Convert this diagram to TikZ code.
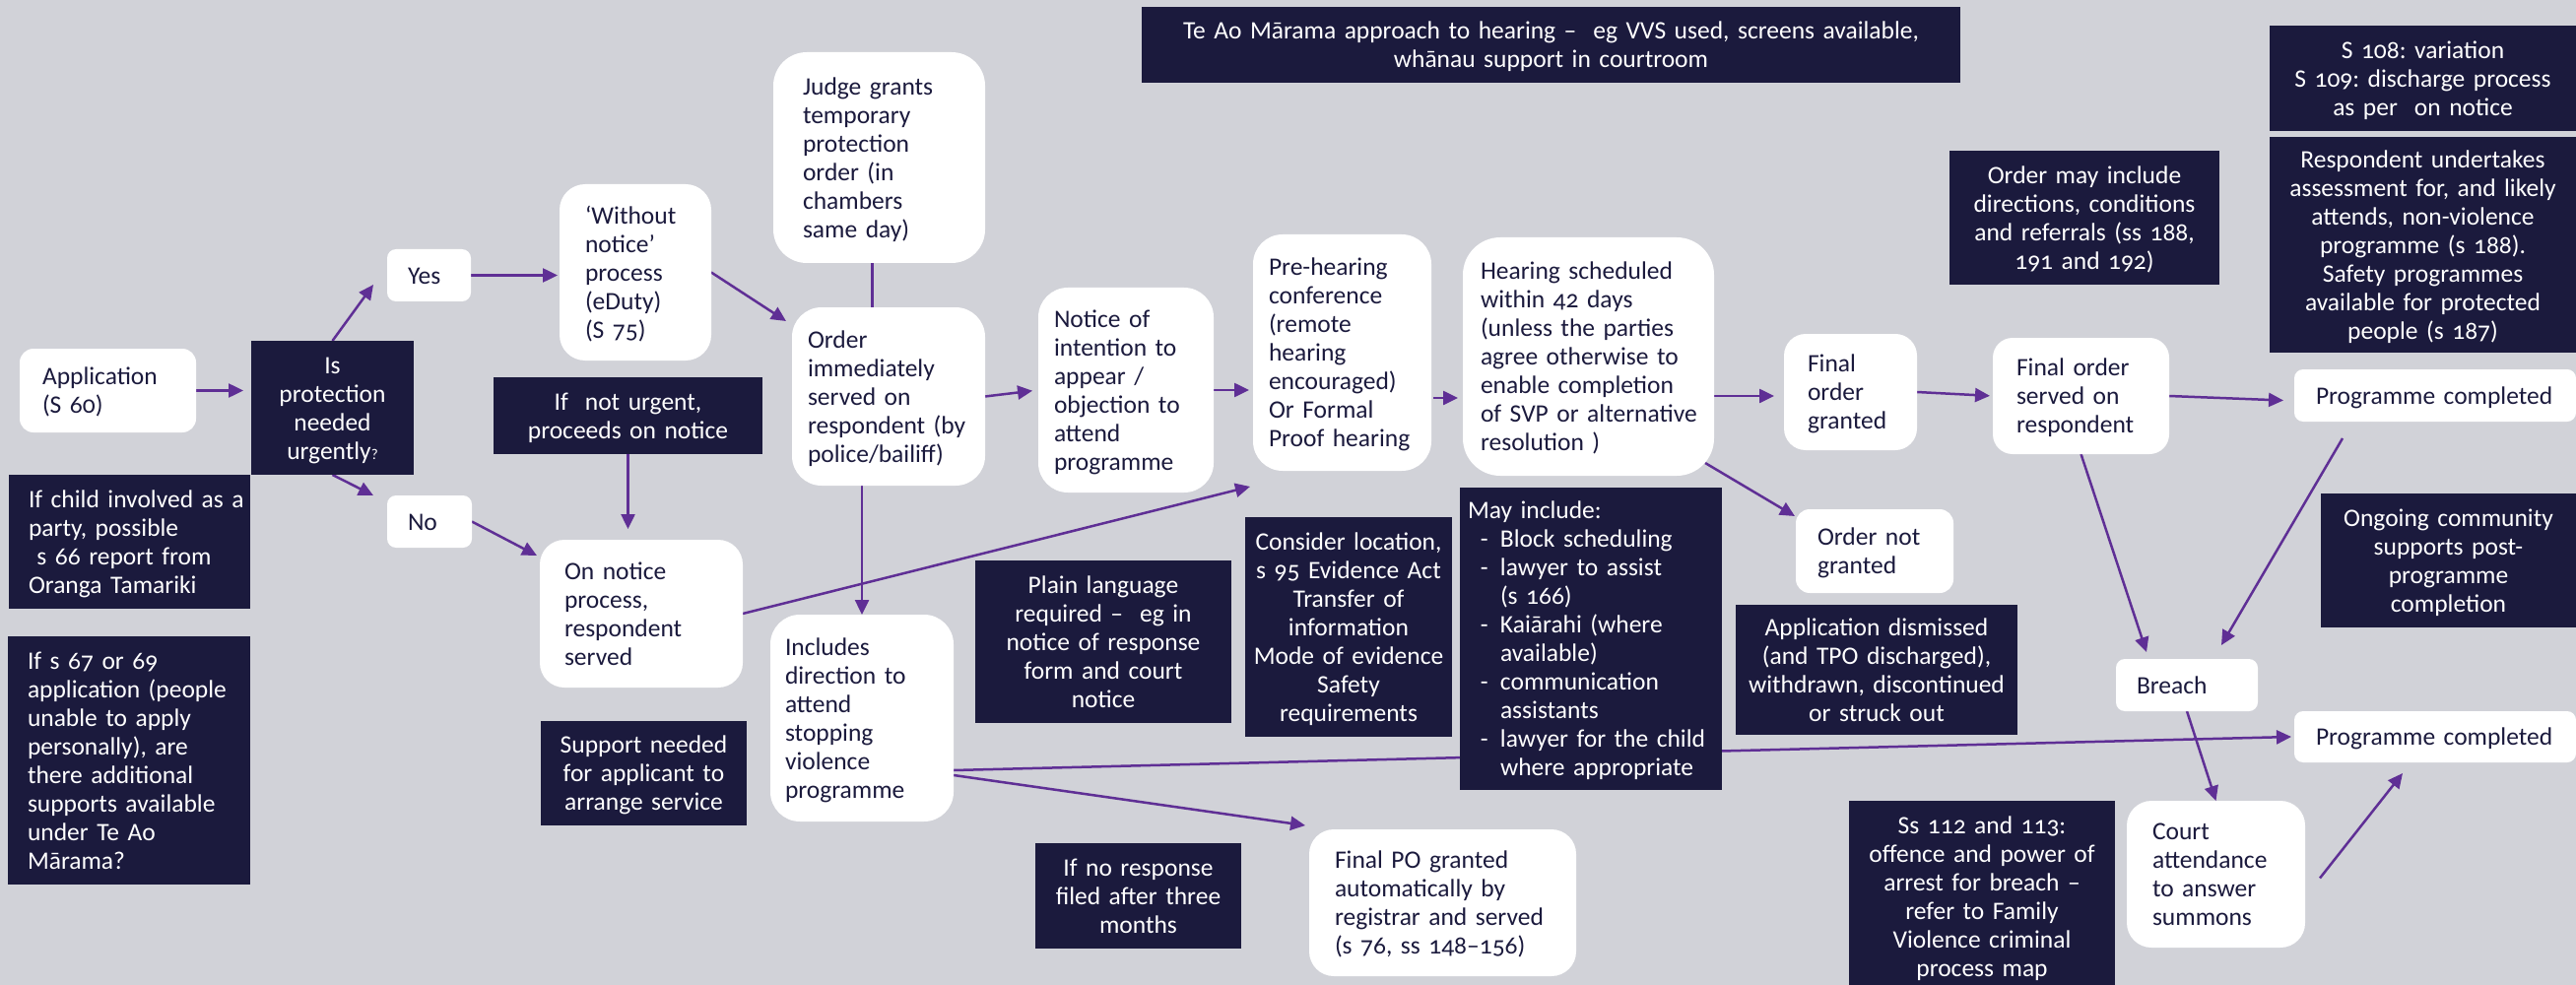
\documentclass[tikz,border=0pt]{standalone}
\usepackage{fontspec}
\setmainfont{Carlito}[Numbers=OldStyle]
\usetikzlibrary{arrows.meta,calc}
\definecolor{bgc}{HTML}{D1D2D8}
\definecolor{navy}{HTML}{1B1A3D}
\definecolor{purp}{HTML}{5F2F95}
\frenchspacing
\newcommand\nf{\fontsize{25.5}{29}\selectfont\frenchspacing}
\newcommand\qsm{{\fontsize{15}{15}\selectfont ?}}
\newcommand\tl[1]{\raisebox{-3pt}[\height][\depth]{\begin{tabular}{@{}l@{}}#1\end{tabular}}}
\newcommand\tc[1]{\raisebox{-3pt}[\height][\depth]{\begin{tabular}{@{}c@{}}#1\end{tabular}}}
\pgfdeclarelayer{bg}\pgfdeclarelayer{edges}\pgfsetlayers{bg,edges,main}
\tikzset{
  base/.style={font=\nf, inner ysep=0pt, outer sep=0pt},
  wb/.style n args={4}{base, fill=white, text=navy, align=left,
     minimum width=#1, minimum height=#2, text width=#3, inner xsep=#4},
  db/.style n args={3}{base, fill=navy, text=white, align=center,
     minimum width=#1, minimum height=#2, text width=#3, inner xsep=4pt},
  dbl/.style n args={4}{base, fill=navy, text=white, align=left,
     minimum width=#1, minimum height=#2, text width=#3, inner xsep=#4},
  conn/.style={draw=purp, line width=2.5pt},
  arr/.style={conn, -{Triangle[length=15pt,width=14pt]}},
}
\begin{document}
\begin{tikzpicture}[x=1pt,y=-1pt]
\begin{pgfonlayer}{bg}
\fill[bgc] (0,0) rectangle (2615,1000);
\end{pgfonlayer}
\useasboundingbox (0,0) rectangle (2615,1000);

% white boxes
\node[wb={179pt}{85pt}{133pt}{23pt}, rounded corners=14pt] (app) at (109.5,396.5) {\tl{Application\\(S 60)}};
\node[wb={85pt}{53pt}{43pt}{21pt}, rounded corners=9pt] (yes) at (435.5,279.5) {\tl{Yes}};
\node[wb={86pt}{53pt}{44pt}{21pt}, rounded corners=9pt] (no) at (436,529.5) {\tl{No}};
\node[wb={154pt}{179pt}{102pt}{26pt}, rounded corners=26pt] (without) at (645,276.5) {\tl{‘Without\\notice’\\process\\(eDuty)\\(S 75)}};
\node[wb={215pt}{214pt}{155pt}{30pt}, rounded corners=34pt] (judge) at (892.5,160) {\tl{Judge grants\\temporary\\protection\\order (in\\chambers\\same day)}};
\node[wb={196pt}{181pt}{164pt}{16pt}, rounded corners=30pt] (order) at (902,402.5) {\tl{Order\\immediately\\served on\\respondent (by\\police/bailiff)}};
\node[wb={206pt}{150pt}{156pt}{25pt}, rounded corners=25pt] (onnotice) at (651,623) {\tl{On notice\\process,\\respondent\\served}};
\node[wb={186pt}{210pt}{156pt}{15pt}, rounded corners=30pt] (includes) at (875,729) {\tl{Includes\\direction to\\attend\\stopping\\violence\\programme}};
\node[wb={178pt}{208pt}{146pt}{16pt}, rounded corners=30pt] (notice) at (1143,396) {\tl{Notice of\\intention to\\appear /\\objection to\\attend\\programme}};
\node[wb={181pt}{240pt}{149pt}{16pt}, rounded corners=30pt] (prehear) at (1362.5,358) {\tl{Pre-hearing\\conference\\(remote\\hearing\\encouraged)\\Or Formal\\Proof hearing}};
\node[wb={255pt}{242pt}{219pt}{18pt}, rounded corners=38pt] (hearing) at (1612.5,362) {\tl{Hearing scheduled\\within 42 days\\(unless the parties\\agree otherwise to\\enable completion\\of SVP or alternative\\resolution )}};
\node[wb={135pt}{118pt}{87pt}{24pt}, rounded corners=22pt] (finalgr) at (1878.5,398) {\tl{Final\\order\\granted}};
\node[wb={179pt}{118pt}{131pt}{24pt}, rounded corners=20pt] (served) at (2112.5,402) {\tl{Final order\\served on\\respondent}};
\node[wb={286pt}{53pt}{242pt}{22pt}, rounded corners=9pt] (prog1) at (2472,401.5) {\tl{Programme completed}};
\node[wb={160pt}{85pt}{116pt}{22pt}, rounded corners=14pt] (ordernot) at (1903,559.5) {\tl{Order not\\granted}};
\node[wb={144pt}{53pt}{102pt}{21pt}, rounded corners=9pt] (breach) at (2220,695.5) {\tl{Breach}};
\node[wb={286pt}{52pt}{242pt}{22pt}, rounded corners=9pt] (prog2) at (2472,748) {\tl{Programme completed}};
\node[wb={181pt}{149pt}{129pt}{26pt}, rounded corners=25pt] (court) at (2249.5,887.5) {\tl{Court\\attendance\\to answer\\summons}};
\node[wb={271pt}{149pt}{219pt}{26pt}, rounded corners=25pt] (finalpo) at (1464.5,916.5) {\tl{Final PO granted\\automatically by\\registrar and served\\(s 76, ss 148–156)}};

% dark boxes
\node[db={165pt}{136pt}{157pt}] (isprot) at (337.5,414) {\tc{Is\\protection\\needed\\urgently\qsm}};
\node[dbl={245pt}{136pt}{205pt}{20pt}] (ifchild) at (131.5,550) {\tl{If child involved as a\\party, possible\\\ s 66 report from\\Oranga Tamariki}};
\node[dbl={246pt}{252pt}{206pt}{20pt}] (ifs67) at (131,772) {\tl{If s 67 or 69\\application (people\\unable to apply\\personally), are\\there additional\\supports available\\under Te Ao\\Mārama?}};
\node[db={273pt}{78pt}{265pt}] (notur) at (637.5,422) {\tc{If\ \ not urgent,\\proceeds on notice}};
\node[db={209pt}{106pt}{201pt}] (support) at (653.5,785) {\tc{Support needed\\for applicant to\\arrange service}};
\node[db={260pt}{165pt}{252pt}] (plain) at (1120,651.5) {\tc{Plain language\\required –\ \ eg in\\notice of response\\form and court\\notice}};
\node[db={210pt}{223pt}{202pt}] (consider) at (1369,636.5) {\tc{Consider location,\\s 95 Evidence Act\\Transfer of\\information\\Mode of evidence\\Safety\\requirements}};
\node[base, fill=navy, text=white, align=left, minimum width=266pt, minimum height=307pt, text width=250pt, inner xsep=8pt] (mayinc) at (1615,648.5)
  {\raisebox{-3pt}[\height][\depth]{\begin{tabular}{@{}p{33pt}@{}l@{}}
   \multicolumn{2}{@{}l@{}}{May include:}\\
   \ \,-& Block scheduling\\
   \ \,-& lawyer to assist\\
   & (s 166)\\
   \ \,-& Kaiārahi (where\\
   & available)\\
   \ \,-& communication\\
   & assistants\\
   \ \,-& lawyer for the child\\
   & where appropriate
   \end{tabular}}};
\node[db={209pt}{107pt}{201pt}] (noresp) at (1155.5,909.5) {\tc{If no response\\filed after three\\months}};
\node[db={831pt}{77pt}{823pt}] (teao) at (1574.5,45.5) {\tc{Te Ao Mārama approach to hearing –\ \ eg VVS used, screens available,\\whānau support in courtroom}};
\node[db={311pt}{107pt}{303pt}] (s108) at (2459.5,79.5) {\tc{S 108: variation\\S 109: discharge process\\as per\ \ on notice}};
\node[db={311pt}{219pt}{303pt}] (respond) at (2459.5,248.5) {\tc{Respondent undertakes\\assessment for, and likely\\attends, non-violence\\programme (s 188).\\Safety programmes\\available for protected\\people (s 187)}};
\node[db={274pt}{136pt}{266pt}] (ordermay) at (2116,221) {\tc{Order may include\\directions, conditions\\and referrals (ss 188,\\191 and 192)}};
\node[db={286pt}{132pt}{278pt}] (appdis) at (1905,680) {\tc{Application dismissed\\(and TPO discharged),\\withdrawn, discontinued\\or struck out}};
\node[db={259pt}{136pt}{251pt}] (ongoing) at (2485.5,569) {\tc{Ongoing community\\supports post-\\programme\\completion}};
\node[db={270pt}{194pt}{262pt}] (ss112) at (2012,910) {\tc{Ss 112 and 113:\\offence and power of\\arrest for breach –\\refer to Family\\Violence criminal\\process map}};

% connectors
\begin{pgfonlayer}{edges}
\draw[arr, shorten >=8pt] (app.east) -- (app.east -| isprot.west);
\draw[arr] (isprot.north) -- ($(yes.west)+(-14,9.5)$);
\draw[arr] (isprot.south) -- ($(no.north west)+(-14,0)$);
\draw[arr, shorten >=2pt] (yes.east) -- (yes.east -| without.west);
\draw[arr] (without.east) -- ($(order.north west)+(-6,14)$);
\draw[conn] ($(judge.south)+(-7,0)$) -- ($(judge.south)+(-7,45)$);
\draw[arr, shorten >=11pt] (notur.south) -- (notur.south |- onnotice.north);
\draw[arr] (no.east) -- ($(onnotice.north west)+(-3,16)$);
\draw[arr] (order.south -| includes.north) -- (includes.north);
\draw[arr, shorten >=6pt] (order.east) -- (notice.west);
\draw[arr, shorten >=4pt] (notice.east) -- (notice.east -| prehear.west);
\draw[arr] ($(prehear.east)+(2,46)$) -- ($(hearing.west)+(-5,42)$);
\draw[arr] (onnotice.east) -- ($(prehear.south west)+(-3,16)$);
\draw[arr] ($(hearing.east)+(0,40)$) -- ($(finalgr.west)+(-10,4)$);
\draw[arr] ($(hearing.south east)+(-9,-13)$) -- ($(ordernot.north west)+(-1,7)$);
\draw[arr, shorten >=3pt] (finalgr.east) -- (served.west);
\draw[arr] (served.east) -- ($(prog1.west)+(-11,5)$);
\draw[arr] (served.south) -- ($(breach.north)+(-41,-7)$);
\draw[arr] ($(prog1.south)+(-94,17)$) -- ($(breach.north east)+(-37,-14)$);
\draw[arr] (breach.south) -- (court.north);
\draw[arr] ($(court.east)+(15,4)$) -- ($(prog2.south)+(-33,11)$);
\draw[arr] ($(includes.east)+(0,53)$) -- ($(prog2.west)+(-3,0)$);
\draw[arr] ($(includes.east)+(0,58)$) -- ($(finalpo.north west)+(-4,-4)$);
\end{pgfonlayer}
\end{tikzpicture}
\end{document}
